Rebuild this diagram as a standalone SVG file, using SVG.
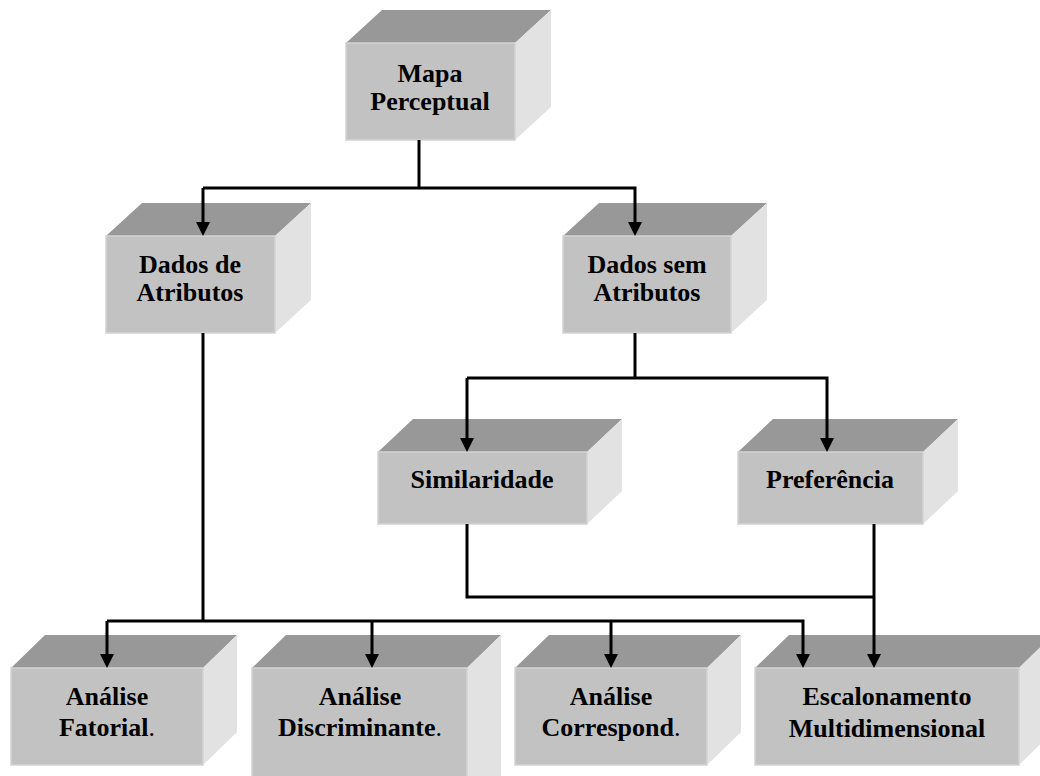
<svg xmlns="http://www.w3.org/2000/svg" width="1040" height="776" viewBox="0 0 1040 776">
  <style>
    .front { fill: #c2c2c2; stroke: #d4d4d4; stroke-width: 1.5; }
    .top { fill: #989898; }
    .side { fill: #e2e2e2; }
    .label { font-family: "Liberation Serif", "Times New Roman", serif; font-weight: bold; font-size: 26px; fill: #000; text-anchor: middle; }
    .dot { font-weight: normal; }
    .wire { fill: none; stroke: #000; stroke-width: 3; }
  </style>
  <defs>
    <marker id="arrow" viewBox="0 0 14 14" refX="10" refY="7" markerWidth="14" markerHeight="14" markerUnits="userSpaceOnUse" orient="auto">
      <path d="M0,0 L14,7 L0,14 Z" fill="#000"/>
    </marker>
  </defs>
  <rect width="1040" height="776" fill="#fff"/>

  <!-- boxes: top face, side face, front face, label -->
  <g id="mapa-perceptual">
    <polygon class="top" points="346,43 382,10 551,10 515,43"/>
    <polygon class="side" points="515,43 551,10 551,107 515,140"/>
    <rect class="front" x="346" y="43" width="169" height="97"/>
    <text class="label" x="430" y="82">Mapa</text>
    <text class="label" x="430" y="110">Perceptual</text>
  </g>

  <g id="dados-atributos">
    <polygon class="top" points="106,236 142,203 311,203 275,236"/>
    <polygon class="side" points="275,236 311,203 311,300 275,333"/>
    <rect class="front" x="106" y="236" width="169" height="97"/>
    <text class="label" x="190" y="273">Dados de</text>
    <text class="label" x="190" y="301">Atributos</text>
  </g>

  <g id="dados-sem-atributos">
    <polygon class="top" points="563,236 599,203 767,203 731,236"/>
    <polygon class="side" points="731,236 767,203 767,300 731,333"/>
    <rect class="front" x="563" y="236" width="168" height="97"/>
    <text class="label" x="647" y="273">Dados sem</text>
    <text class="label" x="647" y="301">Atributos</text>
  </g>

  <g id="similaridade">
    <polygon class="top" points="378,452 413,419 622,419 587,452"/>
    <polygon class="side" points="587,452 622,419 622,491 587,524"/>
    <rect class="front" x="378" y="452" width="209" height="72"/>
    <text class="label" x="482" y="488">Similaridade</text>
  </g>

  <g id="preferencia">
    <polygon class="top" points="738,452 773,419 958,419 923,452"/>
    <polygon class="side" points="923,452 958,419 958,491 923,524"/>
    <rect class="front" x="738" y="452" width="185" height="72"/>
    <text class="label" x="830" y="488">Preferência</text>
  </g>

  <g id="analise-fatorial">
    <polygon class="top" points="11,668 45,635 237,635 203,668"/>
    <polygon class="side" points="203,668 237,635 237,732 203,765"/>
    <rect class="front" x="11" y="668" width="192" height="97"/>
    <text class="label" x="107" y="705">Análise</text>
    <text class="label" x="107" y="736">Fatorial<tspan class="dot">.</tspan></text>
  </g>

  <g id="analise-discriminante">
    <polygon class="top" points="252,668 286,635 501,635 467,668"/>
    <polygon class="side" points="467,668 501,635 501,790 467,823"/>
    <rect class="front" x="252" y="668" width="215" height="155"/>
    <text class="label" x="360" y="705">Análise</text>
    <text class="label" x="360" y="736">Discriminante<tspan class="dot">.</tspan></text>
  </g>

  <g id="analise-correspondencia">
    <polygon class="top" points="515,668 549,635 741,635 707,668"/>
    <polygon class="side" points="707,668 741,635 741,732 707,765"/>
    <rect class="front" x="515" y="668" width="192" height="97"/>
    <text class="label" x="611" y="705">Análise</text>
    <text class="label" x="611" y="736">Correspond<tspan class="dot">.</tspan></text>
  </g>

  <g id="escalonamento-multidimensional">
    <polygon class="top" points="755,668 789,635 1053,635 1019,668"/>
    <polygon class="side" points="1019,668 1053,635 1053,732 1019,765"/>
    <rect class="front" x="755" y="668" width="264" height="97"/>
    <text class="label" x="887" y="705">Escalonamento</text>
    <text class="label" x="887" y="737">Multidimensional</text>
  </g>

  <!-- connectors -->
  <g id="connectors">
    <path class="wire" d="M419,140 V188"/>
    <path class="wire" d="M203,188 V232" marker-end="url(#arrow)"/>
    <path class="wire" d="M203,188 H635 V232" marker-end="url(#arrow)"/>

    <path class="wire" d="M635,333 V378"/>
    <path class="wire" d="M467,378 V448" marker-end="url(#arrow)"/>
    <path class="wire" d="M467,378 H827 V448" marker-end="url(#arrow)"/>

    <path class="wire" d="M203,333 V621"/>
    <path class="wire" d="M107,621 V664" marker-end="url(#arrow)"/>
    <path class="wire" d="M107,621 H803 V664" marker-end="url(#arrow)"/>
    <path class="wire" d="M372,621 V664" marker-end="url(#arrow)"/>
    <path class="wire" d="M611,621 V664" marker-end="url(#arrow)"/>

    <path class="wire" d="M467,524 V597 H874"/>
    <path class="wire" d="M874,524 V664" marker-end="url(#arrow)"/>
  </g>
</svg>
